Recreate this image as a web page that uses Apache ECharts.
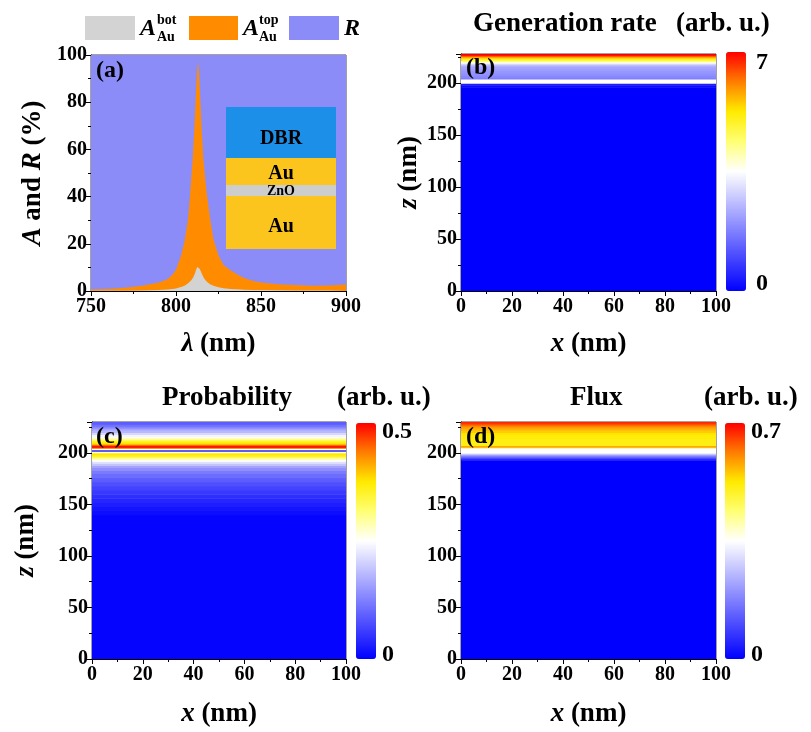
<!DOCTYPE html>
<html><head><meta charset="utf-8">
<script src="https://cdn.jsdelivr.net/npm/echarts@6/dist/echarts.min.js"></script>
<style>html,body{margin:0;padding:0;background:#fff}#c{width:811px;height:732px}</style>
</head><body><div id="c"></div><script>
// ---------- Panel (a): absorption / reflection spectra ----------
const lambda = [750,760,770,780,790,795,798,800,803,805,807,808,809,810,811,812,812.5,813,813.5,814,815,816,817,818,820,822,825,828,832,836,840,845,850,860,870,880,890,900];
const absBot = [0.1,0.1,0.15,0.2,0.4,0.6,0.9,1.1,1.7,2.2,3.2,3.8,4.6,5.6,7.2,9.3,10.2,10.6,10.2,9.3,7.6,6.0,4.9,4.0,2.9,2.2,1.6,1.2,0.9,0.7,0.55,0.45,0.4,0.3,0.25,0.2,0.2,0.2];
const absTop = [0.5,0.8,1.25,2.0,3.2,4.4,6.1,7.9,13.3,18.8,26.8,34.2,43.4,52.4,64.8,78.7,83.8,86.4,82.8,76.7,62.4,51.0,44.1,38.0,28.1,19.8,13.4,9.8,7.9,6.3,4.95,3.85,3.2,2.6,2.25,2.0,2.1,2.6];
const refl = [99.4,99.1,98.6,97.8,96.4,95,93,91,85,79,70,62,52,42,28,12,6,3,7,14,30,43,51,58,69,78,85,89,91.2,93,94.5,95.7,96.4,97.1,97.5,97.8,97.7,97.2];
const lambdaTicks = {min:750, max:900, interval:50};
const percentTicks = {min:0, max:100, interval:20};

// ---------- Panels (b)-(d): depth profiles (uniform along x) ----------
const xRange = [0, 100];
const genEdges = [0,196,198,200,204,205,206,207,208,209,210,212,214,216,217,218,219,220,221,222,223,224,225,226,227,228];
const genRate  = [0,0.15,0.4,3.5,1.7,1.8,1.85,1.9,1.95,2.0,2.05,2.15,2.25,2.4,2.6,2.9,3.3,3.8,4.4,4.9,5.2,5.5,5.9,6.5,7.0];
const probEdges = [0,140,144,148,152,156,160,164,168,172,176,180,183,186,188,190,192,194,196,197,198,199,200,201,201.5,203.5,204.5,205,206,207,208,209,210,211,212,213,214,215,216,218,220,222,224,226,228,230];
const prob      = [0.005,0.012,0.02,0.028,0.036,0.045,0.055,0.065,0.077,0.09,0.105,0.12,0.14,0.16,0.19,0.22,0.25,0.3,0.34,0.36,0.37,0.38,0.3,0.25,0.09,0.25,0.4,0.48,0.5,0.46,0.41,0.38,0.37,0.36,0.33,0.3,0.28,0.26,0.24,0.21,0.18,0.16,0.13,0.11,0.09];
const fluxEdges = [0,193,194,195,196,197,198,199,200,205,206,207,210,214,218,220,222,224,226,227,228,229,230];
const flux      = [0,0.03,0.07,0.11,0.15,0.19,0.24,0.3,0.35,0.55,0.6,0.51,0.51,0.52,0.53,0.55,0.57,0.59,0.61,0.63,0.65,0.67];
const colorMax = {gen:7, prob:0.5, flux:0.7};
const cbLabels = {gen:['7','0'], prob:['0.5','0'], flux:['0.7','0']};

const FONT = '"Liberation Serif","Times New Roman",serif';
const cmap = ['#0000ff','#4040ff','#8080ff','#c0c0ff','#ffffff','#ffff75','#ffeb00','#ff7e00','#ff0000'];

function slabs(edges, vals){ return vals.map((v,i)=>[edges[i], edges[i+1], v]); }

function slabSeries(idx, data){
  return {
    type:'custom', xAxisIndex:idx, yAxisIndex:idx, data:data,
    dimensions:['z0','z1','v'], encode:{y:[0,1]}, clip:true, silent:true,
    renderItem:function(params, api){
      const tl = api.coord([xRange[0], api.value(1)]);
      const br = api.coord([xRange[1], api.value(0)]);
      return {type:'rect', shape:{x:tl[0], y:tl[1], width:br[0]-tl[0], height:br[1]-tl[1]+0.6},
              style:{fill:api.visual('color')}};
    }
  };
}

// stacked totals for panel (a) (bottom: A_bot, then A_top, then R)
const stackBot = lambda.map((l,i)=>[l, absBot[i]]);
const stackTop = lambda.map((l,i)=>[l, absBot[i] + absTop[i]]);
const stackR   = lambda.map((l,i)=>[l, absBot[i] + absTop[i] + refl[i]]);

const labelStyle = {color:'#000', fontFamily:FONT, fontWeight:'bold', fontSize:20};
const nameStyle = {color:'#000', fontFamily:FONT, fontWeight:'bold', fontSize:27,
  rich:{i:{fontStyle:'italic', fontWeight:'bold', fontFamily:FONT, fontSize:27, color:'#000'}}};
const axisLine = {show:true, lineStyle:{color:'#000', width:1}};
const tick = {show:true, length:5, lineStyle:{color:'#000'}};
const minor = {show:true, splitNumber:2, length:3, lineStyle:{color:'#000'}};

function xAxisDef(idx, ticks, name, gap){
  return {type:'value', gridIndex:idx, min:ticks.min, max:ticks.max, interval:ticks.interval,
    name:name, nameLocation:'middle', nameGap:gap, nameTextStyle:nameStyle,
    axisLine:axisLine, axisTick:tick, minorTick:minor, splitLine:{show:false},
    axisLabel:Object.assign({margin:6}, labelStyle)};
}
function yAxisDef(idx, ticks, name, gap){
  return {type:'value', gridIndex:idx, min:ticks.min, max:ticks.max, interval:ticks.interval,
    name:name, nameLocation:'middle', nameGap:gap, nameTextStyle:nameStyle,
    axisLine:axisLine, axisTick:tick, minorTick:minor, splitLine:{show:false},
    axisLabel:Object.assign({margin:4, formatter:function(v){return (v % ticks.interval === 0) ? String(v) : '';}}, labelStyle)};
}
const xNmTicks = {min:0, max:100, interval:20};

const chart = echarts.init(document.getElementById('c'), null, {renderer:'canvas'});

function txt(x, y, s, size, opts){
  return Object.assign({type:'text', x:x, y:y, silent:true,
    style:Object.assign({text:s, fill:'#000', font:'bold '+size+'px '+FONT, textVerticalAlign:'middle'}, opts||{})});
}

const graphics = [
  // legend
  {type:'rect', shape:{x:85,y:16,width:50,height:24}, style:{fill:'#d3d3d3'}},
  txt(140, 29, 'A', 24, {font:'italic bold 24px '+FONT}),
  txt(157, 20, 'bot', 14), txt(157, 37, 'Au', 14),
  {type:'rect', shape:{x:189,y:16,width:49,height:24}, style:{fill:'#ff8c00'}},
  txt(243, 29, 'A', 24, {font:'italic bold 24px '+FONT}),
  txt(259, 20, 'top', 14), txt(259, 37, 'Au', 14),
  {type:'rect', shape:{x:289,y:16,width:50,height:24}, style:{fill:'#8c8cf8'}},
  txt(344, 29, 'R', 24, {font:'italic bold 24px '+FONT}),
  // inset schematic in (a)
  {type:'rect', shape:{x:226,y:107,width:110,height:51}, style:{fill:'#1c8fe9'}, z:10},
  {type:'rect', shape:{x:226,y:158,width:110,height:27}, style:{fill:'#fcc51e'}, z:10},
  {type:'rect', shape:{x:226,y:185,width:110,height:11}, style:{fill:'#cdcdcd'}, z:10},
  {type:'rect', shape:{x:226,y:196,width:110,height:53}, style:{fill:'#fcc51e'}, z:10},
  Object.assign(txt(281, 139, 'DBR', 20, {textAlign:'center'}), {z:11}),
  Object.assign(txt(281, 174, 'Au', 20, {textAlign:'center'}), {z:11}),
  Object.assign(txt(281, 191, 'ZnO', 14, {textAlign:'center'}), {z:11}),
  Object.assign(txt(281, 227, 'Au', 20, {textAlign:'center'}), {z:11}),
  // panel tags
  Object.assign(txt(96, 71, '(a)', 24), {z:11}), Object.assign(txt(466, 68, '(b)', 24), {z:11}),
  Object.assign(txt(96, 437, '(c)', 24), {z:11}), Object.assign(txt(466, 437, '(d)', 24), {z:11}),
  // titles
  txt(473, 24, 'Generation rate', 27), txt(676, 24, '(arb. u.)', 27),
  txt(162, 398, 'Probability', 27), txt(337, 398, '(arb. u.)', 27),
  txt(570, 398, 'Flux', 27), txt(704, 398, '(arb. u.)', 27),
  // colorbar labels
  txt(756, 63, cbLabels.gen[0], 24), txt(756, 284, cbLabels.gen[1], 24),
  txt(382, 432, cbLabels.prob[0], 24), txt(382, 655, cbLabels.prob[1], 24),
  txt(751, 432, cbLabels.flux[0], 24), txt(751, 655, cbLabels.flux[1], 24)
];

function vm(seriesIndex, max, left, top, h){
  return {type:'continuous', seriesIndex:seriesIndex, dimension:2, min:0, max:max,
    calculable:false, hoverLink:false, orient:'vertical', left:left, top:top, padding:0,
    itemWidth:20, itemHeight:h, text:null, inRange:{color:cmap}};
}

const gridBorder = {show:true, borderColor:'#444', borderWidth:1, backgroundColor:'transparent'};

function areaSeries(name, data, color){
  return {name:name, type:'line', xAxisIndex:0, yAxisIndex:0, symbol:'none', silent:true,
    data:data, lineStyle:{width:0}, itemStyle:{color:color},
    areaStyle:{color:color, opacity:1}};
}

chart.setOption({
  animation:false,
  backgroundColor:'#fff',
  grid:[
    Object.assign({left:91, top:55, width:255, height:236}, gridBorder),
    Object.assign({left:461, top:54, width:255, height:237}, gridBorder),
    Object.assign({left:92, top:422, width:254, height:237}, gridBorder),
    Object.assign({left:461, top:422, width:255, height:237}, gridBorder)
  ],
  xAxis:[
    xAxisDef(0, lambdaTicks, '{i|λ} (nm)', 40),
    xAxisDef(1, xNmTicks, '{i|x} (nm)', 40),
    xAxisDef(2, xNmTicks, '{i|x} (nm)', 42),
    xAxisDef(3, xNmTicks, '{i|x} (nm)', 42)
  ],
  yAxis:[
    yAxisDef(0, percentTicks, '{i|A} and {i|R} (%)', 44),
    yAxisDef(1, {min:0, max:228, interval:50}, '{i|z} (nm)', 38),
    yAxisDef(2, {min:0, max:230, interval:50}, '{i|z} (nm)', 52),
    yAxisDef(3, {min:0, max:230, interval:50}, '', 52)
  ],
  visualMap:[
    vm(3, colorMax.gen, 726, 52, 239),
    vm(4, colorMax.prob, 356, 423, 236),
    vm(5, colorMax.flux, 725, 423, 236)
  ],
  series:[
    areaSeries('R', stackR, '#8c8cf8'),
    areaSeries('A_top', stackTop, '#ff8c00'),
    areaSeries('A_bot', stackBot, '#d3d3d3'),
    slabSeries(1, slabs(genEdges, genRate)),
    slabSeries(2, slabs(probEdges, prob)),
    slabSeries(3, slabs(fluxEdges, flux))
  ],
  graphic:graphics
});
</script></body></html>
